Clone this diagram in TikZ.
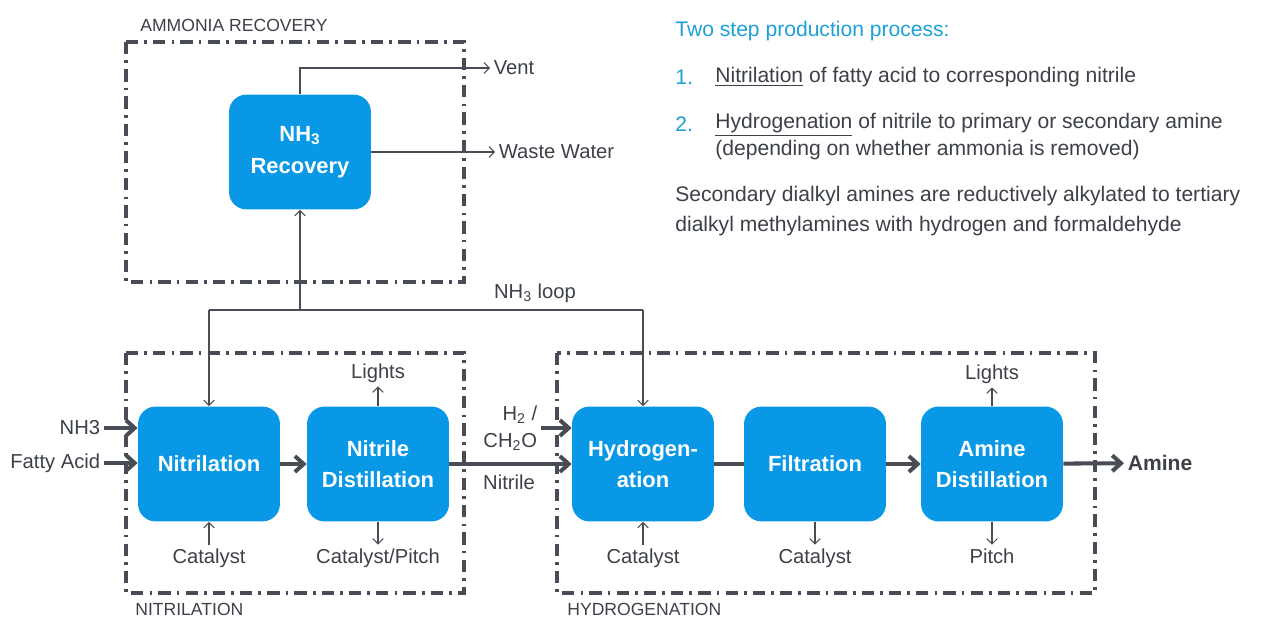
\documentclass[tikz,border=0pt]{standalone}
\usepackage{fontspec}
\setmainfont{Liberation Sans}
\usetikzlibrary{arrows.meta}
\definecolor{unitblue}{RGB}{8,152,230}
\definecolor{streamgray}{RGB}{72,76,84}
\definecolor{textgray}{RGB}{60,64,72}
\definecolor{headcyan}{RGB}{28,160,214}

\begin{document}
\begin{tikzpicture}
  [
    x = 0.02cm, y = -0.02cm,
    unit/.style      = {shape=rectangle, rounded corners=10pt, fill=unitblue,
                        text=white, align=center, inner sep=0pt,
                        minimum width=80.8pt, minimum height=65.4pt,
                        font=\bfseries\fontsize{12.5}{18}\selectfont},
    stream/.style    = {text=textgray, inner sep=2pt,
                        font=\fontsize{11.5}{15.5}\selectfont},
    area/.style      = {draw=streamgray, line width=1.9pt,
                        dash pattern=on 7pt off 3.5pt on 1.5pt off 3.5pt},
    arealabel/.style = {text=textgray, anchor=west, inner sep=0pt,
                        font=\fontsize{10}{12}\selectfont},
    % thick product line and thin side streams
    main/.style      = {draw=streamgray, line width=2.3pt,
                        -{Straight Barb[length=5pt,width=9pt]}},
    side/.style      = {draw=streamgray, line width=0.6pt,
                        -{Straight Barb[length=3pt,width=6pt]}},
    note/.style      = {text=textgray, anchor=west, inner sep=0pt,
                        align=left, font=\fontsize{12}{15.4}\selectfont}
  ]
  \useasboundingbox (0,0) rectangle (1280,625);

  % process areas
  \draw [area] (126,42) rectangle (464,282);
  \draw [area] (126,353) rectangle (464,593);
  \draw [area] (557,353) rectangle (1095,593);
  \node [arealabel] (lblrec) at (140,25) {AMMONIA RECOVERY};
  \node [arealabel] (lblnit) at (135,609) {NITRILATION};
  \node [arealabel] (lblhyd) at (567,609) {HYDROGENATION};

  % units
  \node [unit] (rec)   at (300,152) {NH\textsubscript{3}\\Recovery};
  \node [unit] (nitr)  at (209,464) {Nitrilation};
  \node [unit] (ndist) at (378,464) {Nitrile\\Distillation};
  \node [unit] (hydr)  at (643,464) {Hydrogen-\\ation};
  \node [unit] (filt)  at (815,464) {Filtration};
  \node [unit] (adist) at (992,464) {Amine\\Distillation};

  % streams
  \node [stream, anchor=east] (nh3)   at (104,428) {NH3};
  \node [stream, anchor=east] (fatty) at (104,463) {Fatty Acid};
  \node [stream, anchor=east, align=right] (h2) at (541,428)
        {H\textsubscript{2} /\\CH\textsubscript{2}O};
  \node [stream] (nitrile) at (509,482) {Nitrile};
  \node [stream, anchor=west,
         font=\bfseries\fontsize{12}{14}\selectfont] (amine) at (1124,463) {Amine};
  \node [stream] (lights1) at (378,373) {Lights};
  \node [stream] (cat1)    at (209,558) {Catalyst};
  \node [stream] (catp)    at (378,558) {Catalyst/Pitch};
  \node [stream] (cat2)    at (643,558) {Catalyst};
  \node [stream] (cat3)    at (815,558) {Catalyst};
  \node [stream] (lights2) at (992,374) {Lights};
  \node [stream] (pitch)   at (992,556) {Pitch};
  \node [stream, anchor=west] (vent)  at (490,68) {Vent};
  \node [stream, anchor=west] (waste) at (495,152) {Waste Water};
  \node [stream] (loop) at (535,293) {NH\textsubscript{3} loop};

  \draw [main] (nh3) -- (nh3 -| nitr.west);
  \draw [main] (fatty) -- (fatty -| nitr.west);
  \draw [main] (nitr) -- (ndist);
  \draw [main] (ndist) -- (hydr);
  \draw [main] (h2) -- (h2 -| hydr.west);
  \draw [main, -] (hydr) -- (filt);
  \draw [main] (filt) -- (adist);
  \draw [main] (adist) -- (amine);

  \draw [side] (ndist) -- (lights1);
  \draw [side] (cat1) -- (nitr);
  \draw [side] (ndist) -- (catp);
  \draw [side] (cat2) -- (hydr);
  \draw [side] (filt) -- (cat3);
  \draw [side] (adist) -- (lights2);
  \draw [side] (adist) -- (pitch);
  \draw [side] (rec.north) |- (vent);
  \draw [side] (rec) -- (waste);

  % ammonia loop
  \coordinate (loopline) at (0,310);
  \draw [side, -] (nitr.north |- loopline) -- (hydr.north |- loopline);
  \draw [side] (nitr.north |- loopline) -- (nitr.north);
  \draw [side] (hydr.north |- loopline) -- (hydr.north);
  \draw [side] (rec.south |- loopline) -- (rec.south);

  % description
  \node [note, text=headcyan] (head) at (675,31) {Two step production process:};
  \node [note, text=headcyan] (num1) at (675,77) {1.};
  \node [note] (step1) at (715,77)
        {\underline{Nitrilation} of fatty acid to corresponding nitrile};
  \node [note, text=headcyan] (num2) at (675,124) {2.};
  \node [note] (step2) at (715,137)
        {\underline{Hydrogenation} of nitrile to primary or secondary amine\\
         (depending on whether ammonia is removed)};
  \node [note, font=\fontsize{12}{17}\selectfont] (second) at (675,211)
        {Secondary dialkyl amines are reductively alkylated to tertiary\\
         dialkyl methylamines with hydrogen and formaldehyde};
\end{tikzpicture}
\end{document}
